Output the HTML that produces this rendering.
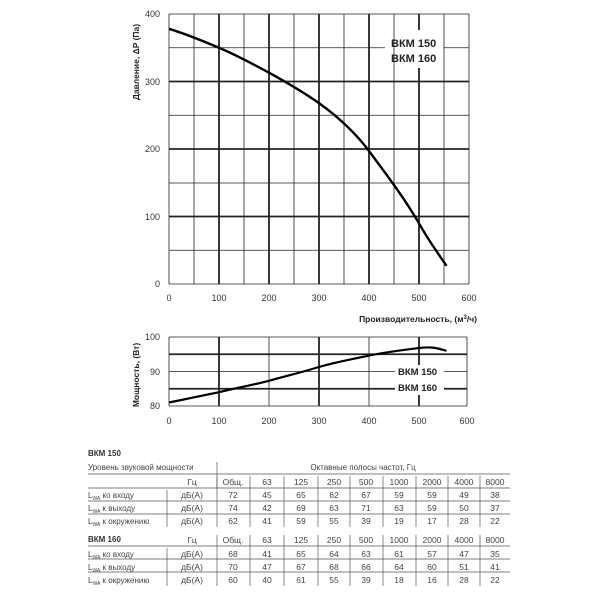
<!DOCTYPE html>
<html><head><meta charset="utf-8"><style>
html,body{margin:0;padding:0;background:#fff;}
svg{display:block;font-family:"Liberation Sans",Arial,sans-serif;}
</style></head><body>
<svg width="600" height="600" viewBox="0 0 600 600">
<g stroke="#222" fill="none">
<!-- plot1 grid -->
<g stroke-width="0.8">
<line x1="169" y1="14" x2="469" y2="14"/><line x1="169" y1="47.75" x2="385" y2="47.75"/><line x1="444" y1="47.75" x2="469" y2="47.75"/>
<line x1="169" y1="115.25" x2="469" y2="115.25"/><line x1="169" y1="183" x2="469" y2="183"/><line x1="169" y1="250.25" x2="469" y2="250.25"/>
<line x1="194" y1="14" x2="194" y2="284"/><line x1="244" y1="14" x2="244" y2="284"/><line x1="294" y1="14" x2="294" y2="284"/><line x1="344" y1="14" x2="344" y2="284"/><line x1="394" y1="14" x2="394" y2="284"/><line x1="444" y1="14" x2="444" y2="284"/>
<line x1="469" y1="14" x2="469" y2="284"/><line x1="169" y1="14" x2="169" y2="284"/><line x1="169" y1="284" x2="469" y2="284"/>
</g>
<g stroke-width="1.8">
<line x1="169" y1="81.5" x2="469" y2="81.5"/><line x1="169" y1="149" x2="469" y2="149"/><line x1="169" y1="216.5" x2="469" y2="216.5"/>
<line x1="219" y1="14" x2="219" y2="284"/><line x1="269" y1="14" x2="269" y2="284"/><line x1="319" y1="14" x2="319" y2="284"/><line x1="369" y1="14" x2="369" y2="284"/>
<line x1="419" y1="14" x2="419" y2="30"/><line x1="419" y1="68" x2="419" y2="284"/>
</g>
<path d="M169,28.8 C186,34 203,41 219,47.75 C236,55 253,64 269,72.7 C286,82 303,92 319,103.1 C337,116 354,131 369,151 C386,174 403,196 419,223.3 C430,243 440,256 446.5,265.8" stroke="#000" stroke-width="2.4"/>
<!-- plot2 grid -->
<g stroke-width="0.8">
<line x1="169" y1="337" x2="467" y2="337"/><line x1="169" y1="371.5" x2="395" y2="371.5"/><line x1="444" y1="371.5" x2="467" y2="371.5"/>
<line x1="169" y1="406" x2="467" y2="406"/>
<line x1="169" y1="337" x2="169" y2="406"/><line x1="467" y1="337" x2="467" y2="406"/>
<line x1="219" y1="337" x2="219" y2="406"/><line x1="269" y1="337" x2="269" y2="406"/><line x1="369" y1="337" x2="369" y2="406"/>
</g>
<g stroke-width="1.8">
<line x1="169" y1="354.25" x2="467" y2="354.25"/><line x1="169" y1="388.75" x2="395" y2="388.75"/><line x1="444" y1="388.75" x2="467" y2="388.75"/>
<line x1="219" y1="337" x2="219" y2="406"/><line x1="319" y1="337" x2="319" y2="406"/>
<line x1="419" y1="337" x2="419" y2="365"/><line x1="419" y1="395" x2="419" y2="406"/>
</g>
<path d="M169,402.5 C186,399 203,395.5 219,392.2 C236,388 253,385 269,380.8 C286,376 303,372 319,367 C336,362 353,359 369,355.6 C386,352 403,350 419,348 C424,347.5 427,347.3 431,347.5 C438,348 443,350 446.5,350.8" stroke="#000" stroke-width="2.2"/>
</g>
<g font-size="9" fill="#333">
<text x="160" y="17" text-anchor="end">400</text><text x="160" y="85" text-anchor="end">300</text><text x="160" y="152" text-anchor="end">200</text><text x="160" y="220" text-anchor="end">100</text><text x="160" y="287" text-anchor="end">0</text>
<text x="169" y="301" text-anchor="middle">0</text><text x="219" y="301" text-anchor="middle">100</text><text x="269" y="301" text-anchor="middle">200</text><text x="319" y="301" text-anchor="middle">300</text><text x="369" y="301" text-anchor="middle">400</text><text x="419" y="301" text-anchor="middle">500</text><text x="469" y="301" text-anchor="middle">600</text>
<text x="160" y="340" text-anchor="end">100</text><text x="160" y="375" text-anchor="end">90</text><text x="160" y="409" text-anchor="end">80</text>
<text x="169" y="424" text-anchor="middle">0</text><text x="219" y="424" text-anchor="middle">100</text><text x="269" y="424" text-anchor="middle">200</text><text x="319" y="424" text-anchor="middle">300</text><text x="369" y="424" text-anchor="middle">400</text><text x="419" y="424" text-anchor="middle">500</text><text x="467" y="424" text-anchor="middle">600</text>
</g>
<g font-weight="bold" fill="#222">
<text x="391" y="47" font-size="11">ВКМ 150</text><text x="391" y="62" font-size="11">ВКМ 160</text>
<text x="398" y="375" font-size="9.5">ВКМ 150</text><text x="398" y="391" font-size="9.5">ВКМ 160</text>
<text x="477" y="322" font-size="8.5" text-anchor="end">Производительность, (м<tspan font-size="6" dy="-3">3</tspan><tspan dy="3">/ч)</tspan></text>
<text transform="translate(139,62) rotate(-90)" font-size="8.5" text-anchor="middle">Давление, ΔP (Па)</text>
<text transform="translate(139,375) rotate(-90)" font-size="8.5" text-anchor="middle">Мощность, (Вт)</text>
</g>
<!-- table -->
<g font-size="8" fill="#444">
<text x="88" y="456" font-weight="bold" fill="#333">ВКМ 150</text>
<text x="88" y="470">Уровень звуковой мощности</text>
<text x="363" y="470" text-anchor="middle">Октавные полосы частот, Гц</text>
<text x="88" y="542" font-weight="bold" fill="#333">ВКМ 160</text>
</g>
<g stroke="#555" stroke-width="0.7">
<line x1="217" y1="462" x2="217" y2="488"/>
<line x1="88" y1="474" x2="510" y2="474"/>
<line x1="88" y1="488" x2="510" y2="488"/><line x1="88" y1="501" x2="510" y2="501"/><line x1="88" y1="514" x2="510" y2="514"/>
<line x1="88" y1="546" x2="510" y2="546"/><line x1="88" y1="559" x2="510" y2="559"/><line x1="88" y1="572" x2="510" y2="572"/>
</g>
<g id="cols" stroke="#555" stroke-width="0.7">
<line x1="217" y1="476" x2="217" y2="527"/><line x1="250" y1="476" x2="250" y2="527"/><line x1="284" y1="476" x2="284" y2="527"/><line x1="318" y1="476" x2="318" y2="527"/><line x1="350" y1="476" x2="350" y2="527"/><line x1="383" y1="476" x2="383" y2="527"/><line x1="416" y1="476" x2="416" y2="527"/><line x1="448" y1="476" x2="448" y2="527"/><line x1="480" y1="476" x2="480" y2="527"/>
<line x1="167" y1="490" x2="167" y2="527"/>
<line x1="217" y1="535" x2="217" y2="586"/><line x1="250" y1="535" x2="250" y2="586"/><line x1="284" y1="535" x2="284" y2="586"/><line x1="318" y1="535" x2="318" y2="586"/><line x1="350" y1="535" x2="350" y2="586"/><line x1="383" y1="535" x2="383" y2="586"/><line x1="416" y1="535" x2="416" y2="586"/><line x1="448" y1="535" x2="448" y2="586"/><line x1="480" y1="535" x2="480" y2="586"/>
<line x1="167" y1="548" x2="167" y2="586"/>
</g>
<g font-size="8.5" fill="#444" text-anchor="middle">
<text x="192" y="485">Гц</text><text x="233" y="485">Общ.</text><text x="267" y="485">63</text><text x="301" y="485">125</text><text x="334" y="485">250</text><text x="366" y="485">500</text><text x="399" y="485">1000</text><text x="432" y="485">2000</text><text x="464" y="485">4000</text><text x="495" y="485">8000</text>
<text x="192" y="498">дБ(А)</text><text x="233" y="498">72</text><text x="267" y="498">45</text><text x="301" y="498">65</text><text x="334" y="498">62</text><text x="366" y="498">67</text><text x="399" y="498">59</text><text x="432" y="498">59</text><text x="464" y="498">49</text><text x="495" y="498">38</text>
<text x="192" y="511">дБ(А)</text><text x="233" y="511">74</text><text x="267" y="511">42</text><text x="301" y="511">69</text><text x="334" y="511">63</text><text x="366" y="511">71</text><text x="399" y="511">63</text><text x="432" y="511">59</text><text x="464" y="511">50</text><text x="495" y="511">37</text>
<text x="192" y="524">дБ(А)</text><text x="233" y="524">62</text><text x="267" y="524">41</text><text x="301" y="524">59</text><text x="334" y="524">55</text><text x="366" y="524">39</text><text x="399" y="524">19</text><text x="432" y="524">17</text><text x="464" y="524">28</text><text x="495" y="524">22</text>
<text x="192" y="543">Гц</text><text x="233" y="543">Общ.</text><text x="267" y="543">63</text><text x="301" y="543">125</text><text x="334" y="543">250</text><text x="366" y="543">500</text><text x="399" y="543">1000</text><text x="432" y="543">2000</text><text x="464" y="543">4000</text><text x="495" y="543">8000</text>
<text x="192" y="557">дБ(А)</text><text x="233" y="557">68</text><text x="267" y="557">41</text><text x="301" y="557">65</text><text x="334" y="557">64</text><text x="366" y="557">63</text><text x="399" y="557">61</text><text x="432" y="557">57</text><text x="464" y="557">47</text><text x="495" y="557">35</text>
<text x="192" y="570">дБ(А)</text><text x="233" y="570">70</text><text x="267" y="570">47</text><text x="301" y="570">67</text><text x="334" y="570">68</text><text x="366" y="570">66</text><text x="399" y="570">64</text><text x="432" y="570">60</text><text x="464" y="570">51</text><text x="495" y="570">41</text>
<text x="192" y="583">дБ(А)</text><text x="233" y="583">60</text><text x="267" y="583">40</text><text x="301" y="583">61</text><text x="334" y="583">55</text><text x="366" y="583">39</text><text x="399" y="583">18</text><text x="432" y="583">16</text><text x="464" y="583">28</text><text x="495" y="583">22</text>
</g>
<g font-size="8" fill="#444">
<text x="88" y="498">L<tspan font-size="5" dy="2">WA</tspan><tspan dy="-2"> ко входу</tspan></text>
<text x="88" y="511">L<tspan font-size="5" dy="2">WA</tspan><tspan dy="-2"> к выходу</tspan></text>
<text x="88" y="524">L<tspan font-size="5" dy="2">WA</tspan><tspan dy="-2"> к окружению</tspan></text>
<text x="88" y="557">L<tspan font-size="5" dy="2">WA</tspan><tspan dy="-2"> ко входу</tspan></text>
<text x="88" y="570">L<tspan font-size="5" dy="2">WA</tspan><tspan dy="-2"> к выходу</tspan></text>
<text x="88" y="583">L<tspan font-size="5" dy="2">WA</tspan><tspan dy="-2"> к окружению</tspan></text>
</g>
</svg>
</body></html>
